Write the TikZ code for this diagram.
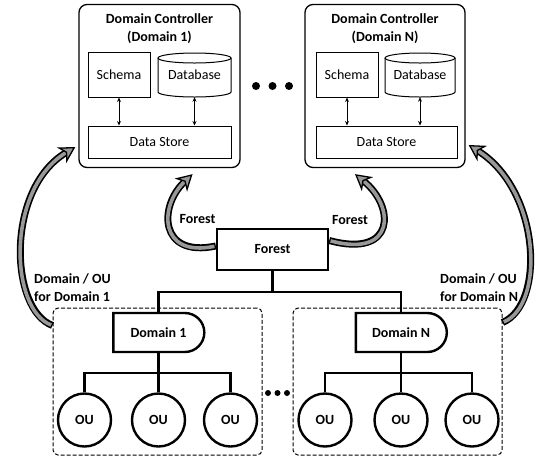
\documentclass[tikz,border=0pt]{standalone}
\usepackage{fontspec}
\setmainfont{Carlito}
\usetikzlibrary{arrows.meta,shapes.misc,calc}
\definecolor{argray}{RGB}{152,152,152}
\tikzset{
  txt/.style={font=\fontsize{14}{18}\selectfont, inner sep=0pt},
  btxt/.style={font=\fontsize{14}{18}\selectfont\bfseries, inner sep=0pt},
  dcbox/.style={draw, line width=1.3pt, rounded corners=8pt, minimum width=161pt, minimum height=163pt, inner sep=0pt},
  inbox/.style={txt, draw, line width=1pt, minimum height=45pt},
  dsbox/.style={txt, draw, line width=1pt, minimum height=32pt},
  inln/.style={line width=1pt},
  dbl/.style={line width=0.9pt, {Stealth[length=4.5pt,width=4pt]}-{Stealth[length=4.5pt,width=4pt]}},
  forestbox/.style={btxt, draw, line width=2.4pt, minimum width=111pt, minimum height=41pt},
  dombox/.style={btxt, draw, line width=2.4pt, rounded rectangle, rounded rectangle left arc=none, minimum width=91pt, minimum height=39pt},
  ounode/.style={btxt, draw, circle, line width=2.4pt, minimum size=53pt},
  tree/.style={line width=2.4pt},
  grp/.style={draw, dashed, dash pattern=on 4pt off 2pt, line width=1pt, rounded corners=5pt, minimum width=209pt, minimum height=147pt},
  arrout/.style={line width=7pt, black, shorten >=11pt, shorten <=0pt},
  arrin/.style={line width=3.6pt, argray, shorten <=1.4pt, -{Stealth[length=16pt,width=18pt,inset=5pt,color=black,fill=argray,line width=1.3pt]}},
}
\begin{document}
\begin{tikzpicture}[x=1pt,y=-1pt]
\useasboundingbox (0,0) rectangle (540,459);

% Domain controller 1
\node[dcbox] (dc1) at (159.5,86) {};
\node[btxt, align=center] (t1) at (159.5,29) {Domain Controller\\(Domain 1)};
\node[inbox, minimum width=62pt] (sc1) at (119,74.5) {Schema};
\draw[inln, fill=white] (158,58) -- (158,92) arc[start angle=180, end angle=0, x radius=36.5, y radius=5] -- (231,58);
\draw[inln] (194.5,58) ellipse[x radius=36.5, y radius=5];
\node[txt, minimum width=73pt, minimum height=44pt] (db1) at (194.5,75) {\raisebox{-4pt}{Database}};
\node[dsbox, minimum width=143pt] (ds1) at (159.5,142) {Data Store};
\draw[dbl] (sc1.south) -- (sc1.south |- ds1.north);
\draw[dbl] (db1.south) -- (db1.south |- ds1.north);

% Domain controller N
\node[dcbox, minimum width=160pt] (dcN) at (385,86) {};
\node[btxt, align=center] (tN) at (385,29) {Domain Controller\\(Domain N)};
\node[inbox, minimum width=62pt] (scN) at (347,74.5) {Schema};
\draw[inln, fill=white] (385,58) -- (385,92) arc[start angle=180, end angle=0, x radius=35, y radius=5] -- (455,58);
\draw[inln] (420,58) ellipse[x radius=35, y radius=5];
\node[txt, minimum width=70pt, minimum height=44pt] (dbN) at (420,75) {\raisebox{-4pt}{Database}};
\node[dsbox, minimum width=141pt] (dsN) at (386.5,142) {Data Store};
\draw[dbl] (scN.south) -- (scN.south |- dsN.north);
\draw[dbl] (dbN.south) -- (dbN.south |- dsN.north);

% dots between controllers
\fill (256,86) circle[radius=4];
\fill (272.5,86) circle[radius=4];
\fill (289,86) circle[radius=4];

% Forest
\node[forestbox] (forest) at (272.5,249.5) {Forest};
\node[btxt] (fl1) at (197.5,219) {Forest};
\node[btxt] (fl2) at (350,220) {Forest};

% groups
\node[grp] (box1) at (157.5,381.5) {};
\node[grp] (box2) at (397.5,381.5) {};
\fill (268,393) circle[radius=3];
\fill (277.5,393) circle[radius=3];
\fill (287,393) circle[radius=3];

% domains
\node[dombox] (dom1) at (158.5,332.5) {Domain 1};
\node[dombox] (domN) at (401,332.5) {Domain N};

\draw[tree] (forest.south) -- ++(0,21) coordinate (j);
\draw[tree] (dom1.north) |- (j) -| (domN.north);

% OUs
\node[ounode] (ou11) at (84.5,420) {OU};
\node[ounode] (ou12) at (158.5,420) {OU};
\node[ounode] (ou13) at (230.5,420) {OU};
\node[ounode] (ouN1) at (325,420) {OU};
\node[ounode] (ouN2) at (401,420) {OU};
\node[ounode] (ouN3) at (472,420) {OU};
\draw[tree] (dom1.south) -- ++(0,20) coordinate (k1);
\draw[tree] (ou11.north) |- (k1) -| (ou13.north);
\draw[tree] (k1) -- (ou12.north);
\draw[tree] (domN.south) -- ++(0,20) coordinate (kN);
\draw[tree] (ouN1.north) |- (kN) -| (ouN3.north);
\draw[tree] (kN) -- (ouN2.north);

% labels
\node[btxt, align=left, anchor=west] (lab1) at (34,288) {Domain / OU\\for Domain 1};
\node[btxt, align=left, anchor=west] (labN) at (440,288) {Domain / OU\\for Domain N};

% curved arrows
\coordinate (a1s) at ($(box1.north west)+(0,18)$);
\coordinate (a1e) at ($(dc1.west |- ds1.center)+(-3,5)$);
\coordinate (aNs) at ($(box2.north east)+(0,15)$);
\coordinate (aNe) at ($(dcN.east |- dsN.center)+(3,3)$);
\coordinate (f1s) at ($(forest.west)+(0,-3.5)$);
\coordinate (f1e) at ($(dc1.south)+(33,6)$);
\coordinate (fNs) at ($(forest.east)+(0,-9)$);
\coordinate (fNe) at ($(dcN.south)+(-30,6)$);

\draw[arrout] (a1s) .. controls +(-43,-16) and +(-70,42) .. (a1e);
\draw[arrin]  (a1s) .. controls +(-43,-16) and +(-70,42) .. (a1e);
\draw[arrout] (aNs) .. controls +(43,-18) and +(72,45) .. (aNe);
\draw[arrin]  (aNs) .. controls +(43,-18) and +(72,45) .. (aNe);
\draw[arrout] (f1s) .. controls +(-57,12) and +(-34,32) .. (f1e);
\draw[arrin]  (f1s) .. controls +(-57,12) and +(-34,32) .. (f1e);
\draw[arrout] (fNs) .. controls +(67,18) and +(40,32) .. (fNe);
\draw[arrin]  (fNs) .. controls +(67,18) and +(40,32) .. (fNe);
\end{tikzpicture}
\end{document}
